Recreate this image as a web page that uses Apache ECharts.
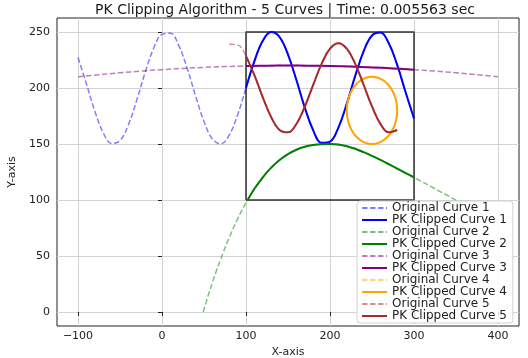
<!DOCTYPE html>
<html>
<head>
<meta charset="utf-8">
<script src="https://cdn.jsdelivr.net/npm/echarts@6/dist/echarts.min.js"></script>
<style>html,body{margin:0;padding:0;background:#fff}#c{width:528px;height:358px}</style>
</head>
<body>
<div id="c"></div>
<script>
// ---- data ----
const xTickLabels = [-100, 0, 100, 200, 300, 400];
const yTickLabels = [0, 50, 100, 150, 200, 250];
const clipBox = [100, 100, 300, 250]; // xmin, ymin, xmax, ymax

const c1x = [-100,-90,-80,-70,-60,-50,-40,-30,-20,-10,0,10,20,30,40,50,60,70,80,90,100,110,120,130,140,150,160,170,180,190,200,210,220,230,240,250,260,270,280,290,300];
const c1y = [227.2,203.8,179.4,160.1,150.5,153.1,167.2,189.2,214.0,235.3,247.9,248.9,237.8,217.5,192.9,170.1,154.5,150.1,157.9,176.0,200.0,224.0,242.1,249.9,245.5,229.9,207.1,182.5,162.2,151.1,152.1,164.7,186.0,210.8,232.8,246.9,249.5,239.9,220.6,196.2,172.8];

const c2x = [49,55,60,65,70,80,90,100,110,120,130,140,150,160,170,180,190,200,210,220,230,240,250,260,270,280,290,300,310,320,330,340,350,360,370,380,390,400];
const c2y = [0,14.7,26.4,37.3,47.5,66.5,83.1,97.6,110.0,120.3,128.9,135.7,141.0,144.9,147.6,149.1,149.8,150.0,149.5,148.0,145.7,142.7,139.4,135.8,132.0,128.1,124.1,120.1,116.1,112.1,108.0,104.0,99.9,95.9,91.8,87.8,83.7,79.7];

const c3x = [-100,-75,-50,-25,0,25,50,75,100,125,150,175,200,225,250,275,300,325,350,375,400];
const c3y = [210.0,211.9,213.6,215.1,216.4,217.5,218.4,219.1,219.6,219.9,220.0,219.9,219.6,219.1,218.4,217.5,216.4,215.1,213.6,211.9,210.0];

const c4x = [280,278.98,275.98,271.21,265,257.76,250,242.24,235,228.79,224.02,221.02,220,221.02,224.02,228.79,235,242.24,250,257.76,265,271.21,275.98,278.98,280];
const c4y = [180,187.76,195,201.21,205.98,208.98,210,208.98,205.98,201.21,195,187.76,180,172.24,165,158.79,154.02,151.02,150,151.02,154.02,158.79,165,172.24,180];

const c5x = [80,90,100,110,120,130,140,150,160,170,180,190,200,210,220,230,240,250,260,270,280];
const c5y = [239.0,238.5,228.5,211.4,191.6,173.9,162.5,160.4,167.9,183.3,202.8,221.6,235.1,240.0,235.1,221.6,202.9,183.5,168.0,160.4,162.5];

const curveNames = ['Curve 1','Curve 2','Curve 3','Curve 4','Curve 5'];
const curveColors = ['#0000ff','#008000','#800080','#ffa500','#a52a2a'];
const titleText = 'PK Clipping Algorithm - 5 Curves | Time: 0.005563 sec';

// ---- helpers ----
function pairs(xs, ys){ return xs.map((x,i)=>[x, ys[i]]); }

// Liang-Barsky clipping of a polyline against clipBox
function clipPolyline(pts){
  const [xmin,ymin,xmax,ymax] = clipBox;
  const out = [];
  let last = null;
  for (let i = 0; i < pts.length - 1; i++){
    const [ax,ay] = pts[i], [bx,by] = pts[i+1];
    const dx = bx-ax, dy = by-ay;
    let t0 = 0, t1 = 1, ok = true;
    const p = [-dx, dx, -dy, dy];
    const q = [ax-xmin, xmax-ax, ay-ymin, ymax-ay];
    for (let k = 0; k < 4; k++){
      if (p[k] === 0){ if (q[k] < 0){ ok = false; break; } }
      else {
        const r = q[k]/p[k];
        if (p[k] < 0){ if (r > t1){ ok=false; break; } if (r > t0) t0 = r; }
        else { if (r < t0){ ok=false; break; } if (r < t1) t1 = r; }
      }
    }
    if (!ok) { last = null; continue; }
    const s = [ax+t0*dx, ay+t0*dy], e = [ax+t1*dx, ay+t1*dy];
    if (!last || Math.abs(last[0]-s[0])>1e-9 || Math.abs(last[1]-s[1])>1e-9){
      if (out.length) out.push('-');
      out.push(s);
    }
    out.push(e);
    last = t1 < 1 ? null : e;
  }
  return out;
}

const curves = [pairs(c1x,c1y), pairs(c2x,c2y), pairs(c3x,c3y), pairs(c4x,c4y), pairs(c5x,c5y)];
const font = 'DejaVu Sans';
const series = [];
series.push({
  name: 'clip window', type: 'line', symbol: 'none', silent: true, z: 1,
  data: [[clipBox[0],clipBox[1]],[clipBox[2],clipBox[1]],[clipBox[2],clipBox[3]],[clipBox[0],clipBox[3]],[clipBox[0],clipBox[1]]],
  lineStyle: { color: 'rgba(0,0,0,0.6)', width: 2 }, itemStyle: { color: 'rgba(0,0,0,0.6)' }
});
const legendNames = [];
curves.forEach((pts, i) => {
  const on = 'Original ' + curveNames[i], cn = 'PK Clipped ' + curveNames[i];
  legendNames.push(on, cn);
  series.push({
    name: on, type: 'line', symbol: 'none', smooth: 0.4, data: pts, z: 2,
    itemStyle: { color: curveColors[i], opacity: 0.5 },
    lineStyle: { color: curveColors[i], width: 1.5, type: [5.5, 2.5], opacity: 0.5 }
  });
  series.push({
    name: cn, type: 'line', symbol: 'none', smooth: 0.4, data: clipPolyline(pts), z: 3,
    itemStyle: { color: curveColors[i] },
    lineStyle: { color: curveColors[i], width: 2 }
  });
});

const txt = '#222';
const fmt = v => v < 0 ? '\u2212' + (-v) : String(v);
const chart = echarts.init(document.getElementById('c'), null, { renderer: 'canvas' });
chart.setOption({
  animation: false,
  backgroundColor: '#fff',
  title: {
    text: titleText, left: 285, top: 3, padding: 0, textAlign: 'center',
    textStyle: { fontFamily: font, fontSize: 14, fontWeight: 'normal', color: '#1a1a1a' }
  },
  grid: { left: 57, right: 9, top: 18, bottom: 32, show: true, borderColor: '#222', borderWidth: 1,
          backgroundColor: 'transparent', outerBoundsMode: 'none', containLabel: false },
  legend: {
    data: legendNames, orient: 'vertical', left: 357, top: 201,
    padding: [1, 6, 1, 4], itemGap: 0, itemWidth: 25, itemHeight: 12, itemTextGap: 9,
    itemStyle: { opacity: 0 },
    backgroundColor: 'rgba(255,255,255,0.85)', borderColor: '#d0d0d0', borderWidth: 1, borderRadius: 3,
    textStyle: { fontFamily: font, fontSize: 12, lineHeight: 12, color: txt }
  },
  xAxis: {
    type: 'value', min: -125, max: 425,
    name: 'X-axis', nameLocation: 'middle', nameGap: 13.5,
    nameTextStyle: { fontFamily: font, fontSize: 11, color: txt },
    axisLine: { show: false },
    axisTick: { show: true, length: 4, customValues: xTickLabels, lineStyle: { color: txt } },
    axisLabel: { customValues: xTickLabels, formatter: fmt, fontFamily: font, fontSize: 11, color: txt, margin: 5 },
    splitLine: { show: true, lineStyle: { color: '#d3d3d3', width: 1 } }
  },
  yAxis: {
    type: 'value', min: -12.5, max: 262.5,
    name: 'Y-axis', nameLocation: 'middle', nameGap: 37,
    nameTextStyle: { fontFamily: font, fontSize: 11, color: txt },
    axisLine: { show: false },
    axisTick: { show: true, length: 4, customValues: yTickLabels, lineStyle: { color: txt } },
    axisLabel: { customValues: yTickLabels, formatter: fmt, fontFamily: font, fontSize: 11, color: txt, margin: 7 },
    splitLine: { show: true, lineStyle: { color: '#d3d3d3', width: 1 } }
  },
  series: series
});
</script>
</body>
</html>
